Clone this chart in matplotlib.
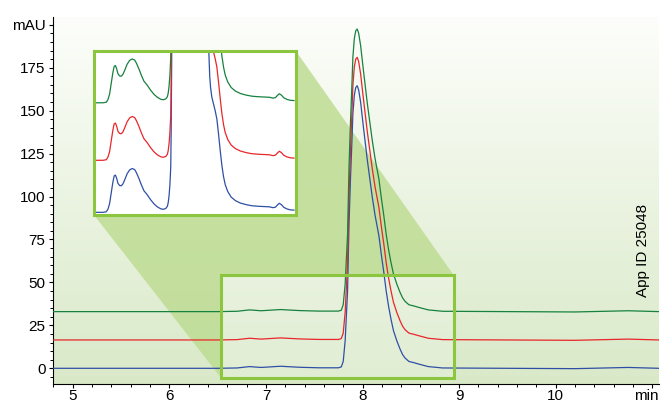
import numpy as np
import matplotlib.pyplot as plt
import matplotlib.transforms as mtransforms
from matplotlib.patches import Polygon, Rectangle
from matplotlib.ticker import MultipleLocator

plt.rcParams["font.family"] = ["Liberation Sans", "DejaVu Sans"]

# Main chromatogram: one profile, stacked with vertical offsets
time = [4.8, 6.5, 6.7, 6.83, 6.95, 7.15, 7.35, 7.55, 7.75, 7.78, 7.80, 7.82,
        7.845, 7.86, 7.875, 7.89, 7.90, 7.915, 7.93, 7.945, 7.96, 7.98, 8.01,
        8.05, 8.10, 8.13, 8.17, 8.195, 8.22, 8.245, 8.27, 8.295, 8.32, 8.355,
        8.39, 8.415, 8.44, 8.48, 8.53, 8.58, 8.68, 8.83, 9.5, 10.2, 10.75,
        11.07]
signal = [0, 0, 0.2, 1.0, 0.5, 1.2, 0.6, 0.3, 0.3, 0.8, 4, 16,
          45, 84, 110, 132, 148, 159, 163.5, 164.5, 162, 155, 140,
          121, 100, 89, 77, 66, 56, 45, 36, 28.5, 22, 16,
          11, 8, 6, 4, 3.3, 2.5, 1.0, 0.2, 0, -0.2, 0.5,
          0]
offsets = {"blue": 0, "red": 16.5, "green": 33}
colors = {"blue": "#2f4fa6", "red": "#e8262b", "green": "#17813f"}

# Magnified view shown in the inset (same stacking idea, larger offsets)
inset_time = [6.56, 6.64, 6.68, 6.70, 6.72, 6.74, 6.76, 6.775, 6.79, 6.805,
              6.82, 6.84, 6.86, 6.88, 6.90, 6.93, 6.96, 6.99, 7.02, 7.04,
              7.07, 7.10, 7.13, 7.17, 7.21, 7.25, 7.29, 7.33, 7.36, 7.39,
              7.41, 7.42, 7.43, 7.44, 7.45, 7.455, 7.46, 7.465, 7.47, 7.88,
              7.885, 7.905, 7.915, 7.925, 7.94, 7.96, 7.98, 8.00, 8.02, 8.04,
              8.06, 8.08, 8.10, 8.13, 8.17, 8.22, 8.28, 8.35, 8.42, 8.50,
              8.57, 8.63, 8.67, 8.70, 8.72, 8.745, 8.77, 8.80, 8.84, 8.88,
              8.92]
inset_signal = [-4.6, -4.6, -4.4, -3.5, -1.5, 2.5, 6.5, 8.7, 9.0, 7.8,
                6.0, 5.2, 5.1, 5.8, 7.2, 9.5, 10.9, 11.4, 11.0, 9.9,
                7.8, 5.4, 3.3, 1.8, 0.0, -1.5, -2.6, -3.3, -3.5, -3.2,
                -2.4, -1.0, 1.5, 5.5, 12, 25, 45, 70, 100, 100,
                80, 53.5, 45, 41, 37.5, 35, 32.5, 29.5, 24, 18,
                12.5, 8.4, 5.5, 3.0, 1.0, -0.3, -1.2, -1.8, -2.2, -2.4,
                -2.5, -2.6, -2.9, -2.7, -2.0, -1.3, -1.8, -2.8, -3.4, -3.7,
                -3.8]
inset_offsets = {"blue": 0, "red": 19, "green": 40}

# Zoom window (data coords) and where the inset sits
zoom_x = (6.535, 8.943)
zoom_y = (-5.6, 54.3)
inset_x = (5.22, 7.31)
inset_y = (89.2, 184.7)

frame_green = "#8cc63f"

fig = plt.figure(figsize=(6.62, 4.05), dpi=100)
ax = fig.add_axes([0.0808, 0.052, 0.9147, 0.906])
ax.set_xlim(4.8, 11.07)
ax.set_ylim(-9.1, 204.5)

# vertical white-to-green background
grad = np.linspace(0, 1, 256).reshape(-1, 1)
top = np.array([0.992, 0.996, 0.984])
bottom = np.array([0.851, 0.914, 0.784])
img = top + grad[..., None] * (bottom - top)
ax.imshow(img, extent=(0, 1, 0, 1), transform=ax.transAxes, aspect="auto",
          zorder=0, interpolation="bilinear")

# connector shading from the inset down to the zoom window
shade = Polygon([(inset_x[0], inset_y[0]), (inset_x[1], inset_y[1]),
                 (zoom_x[1], zoom_y[1]), (zoom_x[0], zoom_y[1]),
                 (zoom_x[0], zoom_y[0])],
                closed=True, facecolor="#bedc93", edgecolor="none",
                alpha=0.85, zorder=1)
ax.add_patch(shade)
ax.add_patch(Rectangle((zoom_x[0], zoom_y[0]), zoom_x[1] - zoom_x[0],
                       zoom_y[1] - zoom_y[0], facecolor="white", alpha=0.2,
                       edgecolor="none", zorder=1))

for name in ["blue", "red", "green"]:
    ax.plot(time, np.array(signal) + offsets[name], color=colors[name],
            lw=0.9, zorder=3)

ax.add_patch(Rectangle((zoom_x[0], zoom_y[0]), zoom_x[1] - zoom_x[0],
                       zoom_y[1] - zoom_y[0], facecolor="none",
                       edgecolor=frame_green, lw=2.2, zorder=4))

# axes styling
for side in ["top", "right"]:
    ax.spines[side].set_visible(False)
for side in ["left", "bottom"]:
    ax.spines[side].set_linewidth(0.8)
ax.xaxis.set_minor_locator(MultipleLocator(0.2))
ax.yaxis.set_minor_locator(MultipleLocator(5))
ax.set_xticks([5, 6, 7, 8, 9, 10, 11])
ax.set_xticklabels(["5", "6", "7", "8", "9", "10", "min"])
ax.set_yticks([0, 25, 50, 75, 100, 125, 150, 175, 200])
ax.set_yticklabels(["0", "25", "50", "75", "100", "125", "150", "175", "mAU"])
ax.tick_params(which="major", direction="out", length=3.2, width=0.8,
               labelsize=11)
ax.tick_params(which="minor", direction="out", length=2, width=0.7)
ax.tick_params(axis="x", which="major", pad=0.6)
ax.tick_params(axis="y", which="major", pad=2.5)

# keep the unit label at the far right inside the canvas
unit_label = ax.get_xticklabels()[-1]
unit_label.set_transform(unit_label.get_transform()
                         + mtransforms.ScaledTranslation(-0.06, 0, fig.dpi_scale_trans))

# inset with the magnified early region
ins = ax.inset_axes([inset_x[0], inset_y[0], inset_x[1] - inset_x[0],
                     inset_y[1] - inset_y[0]], transform=ax.transData)
ins.set_facecolor("white")
ins.set_xlim(*zoom_x)
ins.set_ylim(*zoom_y)
ins.set_xticks([])
ins.set_yticks([])
for sp in ins.spines.values():
    sp.set_color(frame_green)
    sp.set_linewidth(2.2)
for name in ["blue", "red", "green"]:
    ins.plot(inset_time, np.array(inset_signal) + inset_offsets[name],
             color=colors[name], lw=0.9)

fig.text(643 / 662, 1 - 250 / 405, "App ID 25048", rotation=90,
         ha="center", va="center", fontsize=11)

fig.savefig("out.png", dpi=100)
